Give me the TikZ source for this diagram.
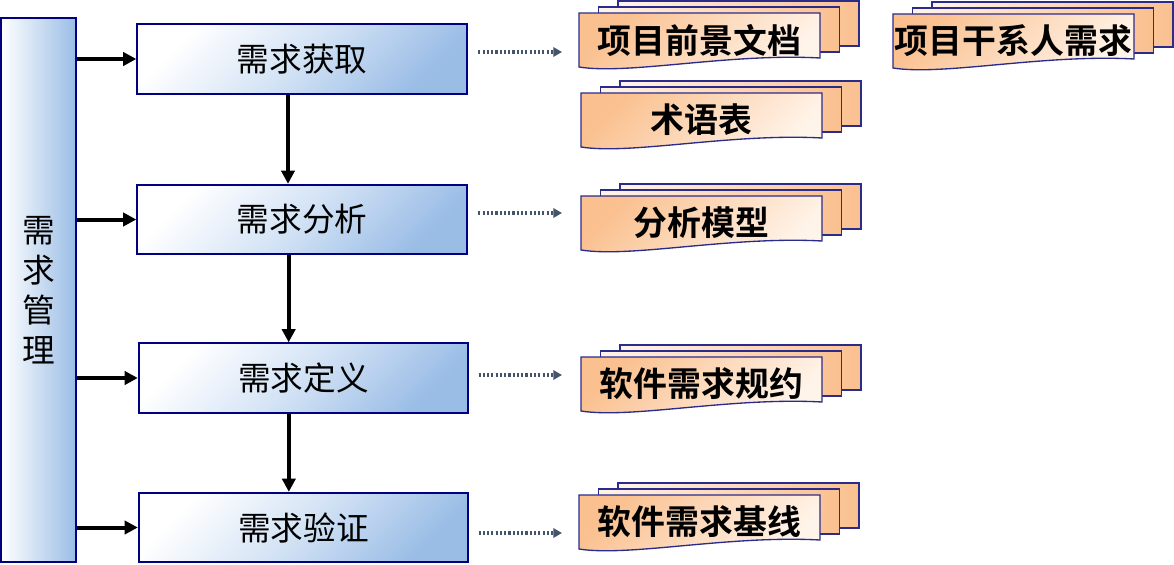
\documentclass[tikz,border=0pt]{standalone}
\usepackage{fontspec}
\usepackage{tikz}
\usetikzlibrary{arrows.meta}
\newfontfamily\cjk{Noto Sans CJK SC}
\newfontfamily\cjkbold{Noto Sans CJK SC Bold}
\definecolor{boxline}{HTML}{000080}
\definecolor{boxblue}{HTML}{9ABDE6}
\definecolor{boxmid}{HTML}{D2E2F5}
\definecolor{pageline}{HTML}{2B2B8C}
\definecolor{pageorange}{HTML}{FAC08F}
\definecolor{pagelight}{HTML}{FFF4EA}
\definecolor{dotgray}{HTML}{44546A}
\tikzset{
  stagebox/.style={draw=boxline,line width=1.5pt,top color=white,bottom color=boxblue,middle color=boxmid,shading angle=45,
    minimum width=247pt,minimum height=52pt,inner sep=0pt,font=\cjk\fontsize{24.5}{24.5}\selectfont},
  docpage/.style={draw=pageline,line width=1pt,left color=pagelight,right color=pageorange},
  docfront/.style={draw=pageline,line width=1pt,top color=pageorange,bottom color=pagelight,shading angle=45},
  doctext/.style={font=\cjkbold\fontsize{25.4}{25.4}\selectfont,inner sep=0pt},
  flow/.style={line width=3pt,-{Triangle[length=10pt,width=10pt]}},
  feed/.style={dotgray,line width=2.3pt,dash pattern=on 1.6pt off 1.6pt,-{Triangle[length=6.5pt,width=7pt]}}
}
% one stack of three pages, front page top-left at (#2,#3)
\newcommand{\docstack}[4]{%
  \begin{scope}[shift={(#2,#3)}]
  \draw[docpage] (39,-12) rectangle ++(241,45);
  \draw[docpage] (19.5,-6) rectangle ++(241,45);
  \draw[docfront] (0,0) -- (241,0) -- (241,45) .. controls (150,40) and (50,62) .. (0,54) -- cycle;
  \node[doctext] (#1) at (120.5,27) {#4};
  \end{scope}}

\begin{document}
\begin{tikzpicture}[x=0.75pt,y=-0.75pt]
\useasboundingbox (0,0) rectangle (1174,564);
\node[draw=boxline,line width=1.5pt,left color=white,right color=boxblue,minimum width=56pt,minimum height=408pt,
  inner sep=0pt,align=center,font=\cjk\fontsize{24.5}{30}\selectfont] (mgmt) at (38.5,290) {需\\求\\管\\理};
\node[stagebox] (elicit) at (302,59) {需求获取};
\node[stagebox] (analyse) at (302,219.5) {需求分析};
\node[stagebox] (define) at (303.5,378) {需求定义};
\node[stagebox] (verify) at (303.5,527.5) {需求验证};
% management feeds every stage
\foreach \s in {elicit,analyse,define,verify} {\draw[flow] (mgmt.east |- \s.west) -- (\s.west);}
\draw[flow] ([xshift=-10.5pt]elicit.south) -- ([xshift=-10.5pt]elicit.south |- analyse.north);
\draw[flow] ([xshift=-10pt]analyse.south) -- ([xshift=-10pt]analyse.south |- define.north);
\draw[flow] ([xshift=-11pt]define.south) -- ([xshift=-11pt]verify.north);
% documents
\docstack{vision}{579}{13}{项目前景文档}
\docstack{stake}{893}{14}{项目干系人需求}
\docstack{gloss}{581}{93}{术语表}
\docstack{model}{581}{196}{分析模型}
\docstack{srs}{581}{357}{软件需求规约}
\docstack{baseline}{579}{495}{软件需求基线}
\coordinate (f1) at (562,52);
\coordinate (f2) at (562,213);
\coordinate (f3) at (562,375);
\coordinate (f4) at (562,533);
\draw[feed] ([xshift=8pt]elicit.east |- f1) -- (f1);
\draw[feed] ([xshift=8pt]analyse.east |- f2) -- (f2);
\draw[feed] ([xshift=7pt]define.east |- f3) -- (f3);
\draw[feed] ([xshift=7pt]verify.east |- f4) -- (f4);
\end{tikzpicture}
\end{document}
